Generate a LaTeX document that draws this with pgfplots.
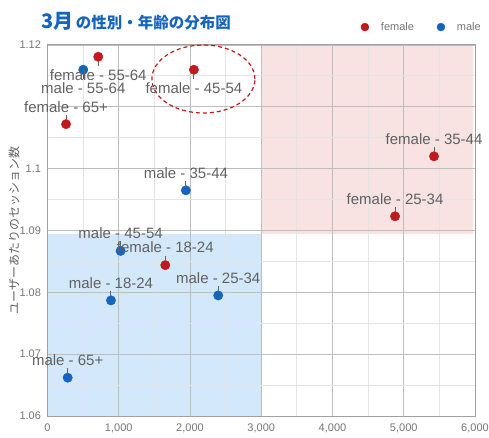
\documentclass[border=0pt]{standalone}
\usepackage{fontspec}
\setmainfont{Liberation Sans}
\newfontfamily\cjk{Noto Sans CJK JP}
\usepackage{pgfplots}
\pgfplotsset{compat=1.18}
\usepackage{pgfplotstable}

\definecolor{fred}{HTML}{BF1B1F}
\definecolor{mblue}{HTML}{1565C0}
\definecolor{titleblue}{HTML}{1565C0}
\definecolor{pinkfill}{HTML}{F8E2E2}
\definecolor{bluefill}{HTML}{D3E8FB}
\definecolor{gridmaj}{HTML}{BDBDBD}
\definecolor{gridmin}{HTML}{E4E4E4}
\definecolor{axisc}{HTML}{A0A0A0}
\definecolor{ticktext}{HTML}{757575}
\definecolor{labelgray}{HTML}{616161}

\pgfplotstableread{
x y
712 1.1181
2055 1.1160
260 1.1072
5425 1.1020
4878 1.0923
1653 1.0844
}\femaletab

\pgfplotstableread{
x y
502 1.1160
1942 1.0965
1026 1.0867
891 1.0787
2396 1.0795
283 1.0662
}\maletab

\pgfplotstableread{
x y label
260 1.1072 {female - 65+}
5425 1.1020 {female - 35-44}
4878 1.0923 {female - 25-34}
1653 1.0844 {female - 18-24}
1942 1.0965 {male - 35-44}
1026 1.0867 {male - 45-54}
891 1.0787 {male - 18-24}
2396 1.0795 {male - 25-34}
283 1.0662 {male - 65+}
}\abovetab

\pgfplotstableread{
x y label
712 1.1181 {female - 55-64}
2055 1.1160 {female - 45-54}
502 1.1160 {male - 55-64}
}\belowtab

\begin{document}
\begin{tikzpicture}
\begin{axis}[
  set layers,
  scale only axis,
  width=427.5pt, height=371pt,
  xmin=0, xmax=6000, ymin=1.06, ymax=1.12,
  xtick={0,1000,2000,3000,4000,5000,6000},
  ytick={1.06,1.07,1.08,1.09,1.1,1.11,1.12},
  yticklabels={1.06,1.07,1.08,1.09,1.1,,1.12},
  minor x tick num=1, minor y tick num=1,
  grid=both,
  major grid style={draw=gridmaj, line width=0.9pt},
  minor grid style={draw=gridmin, line width=0.9pt},
  major tick length=0pt, minor tick length=0pt,
  axis line style={draw=axisc, line width=1pt},
  tick label style={font=\fontsize{11}{12}\selectfont, text=ticktext},
  xticklabel style={yshift=-4pt},
  yticklabel style={xshift=-3pt},
  scaled x ticks=false,
  /pgf/number format/assume math mode=true,
  x tick label style={/pgf/number format/.cd, 1000 sep={,}, assume math mode=true},
  ylabel={\cjk ユーザーあたりのセッション数},
  ylabel style={at={(axis description cs:-0.0784,0.5)}, anchor=center, font=\fontsize{12}{12}\selectfont, text=labelgray},
  clip=false,
  legend style={at={(rel axis cs:1,1)}, anchor=south east, xshift=11pt, yshift=9pt,
    draw=none, fill=none, font=\fontsize{11}{12}\selectfont, text=ticktext,
    /tikz/every even column/.append style={column sep=20pt}},
  legend image code/.code={%
    \draw[#1, only marks, mark size=4pt] plot coordinates {(0pt,0pt)};
    \path[draw=none, fill=none] (-5pt,-4pt) rectangle (14pt,4pt);},
  legend columns=2,
  legend cell align=left,
]
% shaded regions
\addplot[fill=bluefill, draw=none, on layer=axis background, forget plot]
  coordinates {(0,1.06) (3000,1.06) (3000,1.0894) (0,1.0894)} -- cycle;
\addplot[fill=pinkfill, draw=none, on layer=axis background, forget plot]
  coordinates {(3000,1.0895) (5965,1.0895) (5965,1.12) (3000,1.12)} -- cycle;

% points
\addplot[only marks, mark=*, mark size=4.7pt, color=fred, mark options={draw=fred, fill=fred}]
  table[x=x, y=y] {\femaletab};
\addlegendentry{female}
\addplot[only marks, mark=*, mark size=4.7pt, color=mblue, mark options={draw=mblue, fill=mblue}]
  table[x=x, y=y] {\maletab};
\addlegendentry{male}

% labels above
\addplot[forget plot, only marks, mark=|, mark size=2.5pt,
  mark options={draw=labelgray, line width=1pt, yshift=7pt},
  point meta=explicit symbolic, nodes near coords,
  every node near coord/.style={anchor=center, yshift=10.5pt, inner sep=0pt,
    font=\fontsize{15}{16}\selectfont, text=labelgray}]
  table[x=x, y=y, meta=label] {\abovetab};
% labels below
\addplot[forget plot, only marks, mark=|, mark size=2.5pt,
  mark options={draw=labelgray, line width=1pt, yshift=-7pt},
  point meta=explicit symbolic, nodes near coords,
  every node near coord/.style={anchor=center, yshift=-11.5pt, inner sep=0pt,
    font=\fontsize{15}{16}\selectfont, text=labelgray}]
  table[x=x, y=y, meta=label] {\belowtab};

% highlight ellipse
\draw[fred, line width=1.2pt, dash pattern=on 4pt off 3pt]
  (axis cs:2188,1.1145) ellipse [x radius=51.5pt, y radius=34pt];

% title
\node[anchor=west, text=titleblue, inner sep=0pt] at ([shift={(-6pt,24pt)}]rel axis cs:0,1)
  {\cjk\bfseries{\fontsize{20}{22}\selectfont 3月}\hspace{2pt}{\fontsize{15.5}{18}\selectfont の性別・年齢の分布図}};
\end{axis}
\pgfresetboundingbox
\path[use as bounding box] ([shift={(-47.5pt,-21pt)}]current axis.south west) rectangle ([shift={(14pt,45pt)}]current axis.north east);
\end{tikzpicture}
\end{document}
